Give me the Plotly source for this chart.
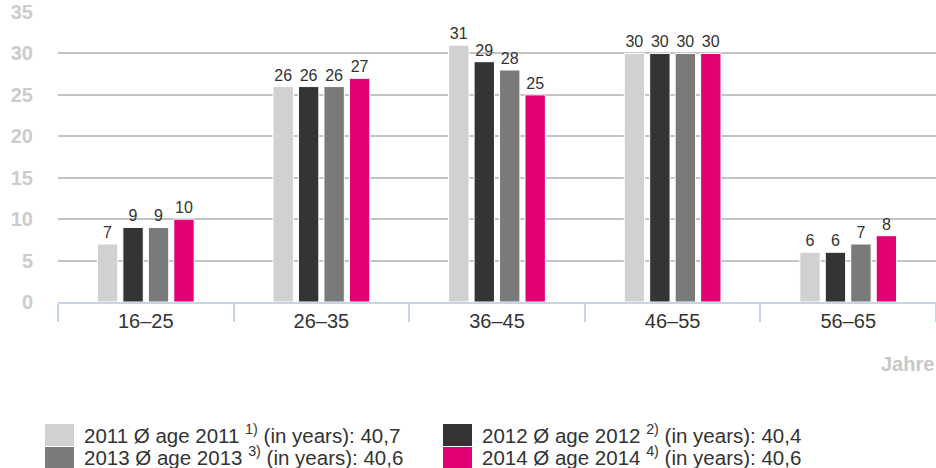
import plotly.graph_objects as go

categories = ["16–25", "26–35", "36–45", "46–55", "56–65"]
years = ["2011", "2012", "2013", "2014"]
vals_2011 = [7, 26, 31, 30, 6]
vals_2012 = [9, 26, 29, 30, 6]
vals_2013 = [9, 26, 28, 30, 7]
vals_2014 = [10, 27, 25, 30, 8]
legend_labels = [
    "2011 Ø age 2011 <sup>1)</sup> (in years): 40,7",
    "2012 Ø age 2012 <sup>2)</sup> (in years): 40,4",
    "2013 Ø age 2013 <sup>3)</sup> (in years): 40,6",
    "2014 Ø age 2014 <sup>4)</sup> (in years): 40,6",
]
colors = ["#d0d1d0", "#333433", "#7a7a7a", "#e20074"]
series = [vals_2011, vals_2012, vals_2013, vals_2014]

FONT = "Liberation Sans, Arial, sans-serif"

fig = go.Figure()
for name, vals, col in zip(years, series, colors):
    fig.add_trace(go.Bar(
        x=categories, y=vals, name=name,
        marker=dict(color=col, line=dict(color="white", width=1)),
        text=[str(v) for v in vals], textposition="outside",
        textfont=dict(color="#333333", size=16, family=FONT),
        cliponaxis=False, showlegend=False,
    ))

fig.update_layout(
    width=936, height=468,
    margin=dict(l=58, r=0, t=12, b=166),
    paper_bgcolor="white", plot_bgcolor="white",
    barmode="group", bargap=0.42, bargroupgap=0.2,
    font=dict(family=FONT),
    xaxis=dict(
        showline=True, linecolor="#c5d4e6", linewidth=2,
        ticks="outside", tickson="boundaries", ticklen=18,
        tickcolor="#c5d4e6", tickwidth=2,
        tickfont=dict(size=20, color="#333333", family=FONT),
        showgrid=False,
    ),
    yaxis=dict(
        range=[0, 35], dtick=5, showgrid=True, gridcolor="#c4c4c4",
        gridwidth=2, zeroline=False, showline=False,
        ticklabelstandoff=24,
        tickfont=dict(size=20, color="#cccccc", family=FONT, weight="bold"),
    ),
)

fig.add_annotation(
    text="Jahre", xref="paper", yref="paper", x=1, y=-0.215,
    xanchor="right", yanchor="middle", showarrow=False,
    font=dict(size=20, color="#c8c8c8", family=FONT, weight="bold"),
)

# custom legend
H = 468 - 12 - 166
def py(ypix):
    return (468 - 166 - ypix) / H

swatch_pos = [(45, 424, 446), (443, 424, 446), (45, 447, 468), (443, 447, 468)]
for (x0, y0, y1), col, lab in zip(swatch_pos, colors, legend_labels):
    fig.add_shape(type="rect", xref="paper", yref="paper",
                  x0=(x0 - 58) / 878, x1=(x0 + 29 - 58) / 878,
                  y0=py(y1), y1=py(y0), fillcolor=col, line=dict(width=0))
    fig.add_annotation(text=lab, xref="paper", yref="paper",
                       x=(x0 + 37 - 58) / 878, y=py((y0 + y1) / 2 - 1.5),
                       xanchor="left", yanchor="middle", showarrow=False,
                       font=dict(size=20.5, color="#333333", family=FONT))

fig.write_html(
    "out.html",
    config={"displayModeBar": False},
    post_script="document.body.style.margin='0';document.body.style.overflow='hidden';",
)
